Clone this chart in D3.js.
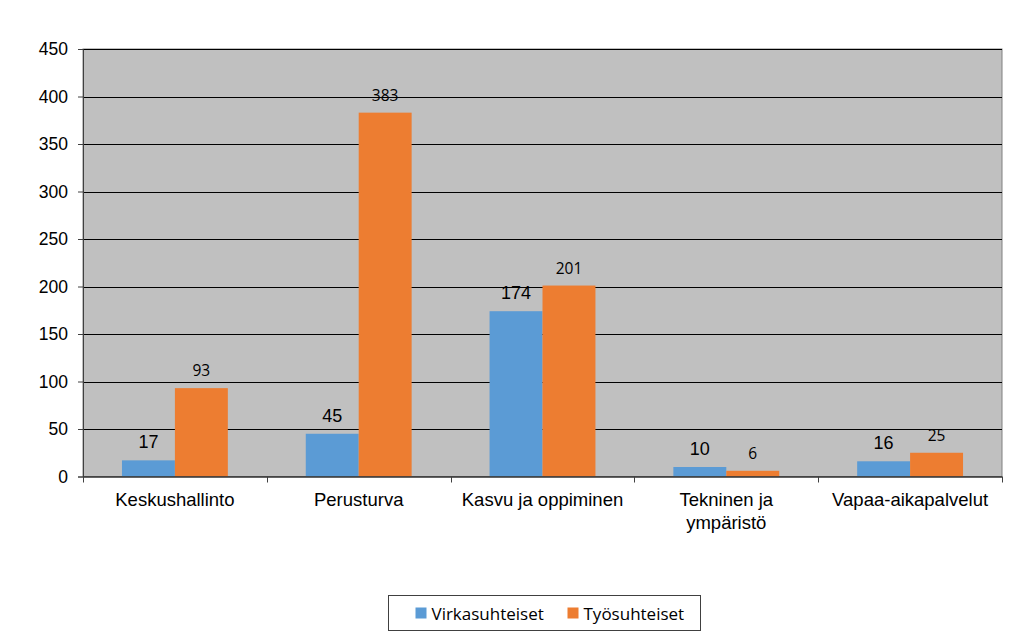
<!DOCTYPE html>
<html>
<head>
<meta charset="utf-8">
<script src="https://cdn.jsdelivr.net/npm/d3@7"></script>
<style>
  body { margin: 0; background: #fff; }
  svg { display: block; }
</style>
</head>
<body>
<svg id="chart"></svg>
<script>
// Chart data
const categories = ["Keskushallinto", "Perusturva", "Kasvu ja oppiminen", "Tekninen ja\nympäristö", "Vapaa-aikapalvelut"];
const seriesNames = ["Virkasuhteiset", "Työsuhteiset"];
const virkasuhteiset = [17, 45, 174, 10, 16];
const tyosuhteiset = [93, 383, 201, 6, 25];
const yTicks = [0, 50, 100, 150, 200, 250, 300, 350, 400, 450];
const colors = ["#5B9BD5", "#ED7D31"];

const width = 1024, height = 643;
const margin = { top: 49, right: 22, bottom: 166.5, left: 83 };
const innerW = width - margin.left - margin.right;
const innerH = height - margin.top - margin.bottom;
const sans = "'Liberation Sans', Arial, sans-serif";

const svg = d3.select("#chart")
    .attr("width", width)
    .attr("height", height);

const g = svg.append("g")
    .attr("transform", `translate(${margin.left},${margin.top})`);

const x0 = d3.scaleBand()
    .domain(categories)
    .range([0, innerW])
    .paddingInner(0.424)
    .paddingOuter(0.212);

const x1 = d3.scaleBand()
    .domain(seriesNames)
    .range([0, x0.bandwidth()]);

const y = d3.scaleLinear()
    .domain([0, 450])
    .range([innerH, 0]);

// Plot background
g.append("rect")
    .attr("width", innerW)
    .attr("height", innerH)
    .attr("fill", "#C0C0C0")
    .attr("stroke", "#808080")
    .attr("stroke-width", 1);

// Gridlines
g.append("g")
    .selectAll("line")
    .data(yTicks.filter(d => d > 0))
    .join("line")
    .attr("x1", 0)
    .attr("x2", innerW)
    .attr("y1", d => Math.round(y(d)) + 0.5)
    .attr("y2", d => Math.round(y(d)) + 0.5)
    .attr("stroke", "#000")
    .attr("stroke-width", 1);

// Y axis
const yAxis = g.append("g")
    .call(d3.axisLeft(y).tickValues(yTicks).tickSize(5).tickPadding(10));
yAxis.select(".domain").attr("stroke", "#404040");
yAxis.selectAll(".tick line").attr("stroke", "#404040");
yAxis.selectAll("text")
    .attr("font-family", sans)
    .attr("font-size", 17.5)
    .attr("fill", "#000");

// Bars
const data = categories.map((c, i) => ({ cat: c, vals: [virkasuhteiset[i], tyosuhteiset[i]] }));

const groups = g.append("g")
    .selectAll("g")
    .data(data)
    .join("g")
    .attr("transform", d => `translate(${x0(d.cat)},0)`);

groups.selectAll("rect")
    .data(d => d.vals.map((v, j) => ({ name: seriesNames[j], value: v, j })))
    .join("rect")
    .attr("x", d => x1(d.name))
    .attr("y", d => y(d.value))
    .attr("width", x1.bandwidth())
    .attr("height", d => innerH - y(d.value))
    .attr("fill", d => colors[d.j]);

// Data labels
groups.selectAll("text")
    .data(d => d.vals.map((v, j) => ({ name: seriesNames[j], value: v, j })))
    .join("text")
    .attr("x", d => x1(d.name) + x1.bandwidth() / 2)
    .attr("y", d => y(d.value) - 12)
    .attr("text-anchor", "middle")
    .attr("font-family", d => d.j === 0 ? sans : "'Open Sans', sans-serif")
    .attr("font-size", d => d.j === 0 ? 18 : 15.5)
    .attr("fill", "#000")
    .text(d => d.value);

// X axis
const xAxis = g.append("g")
    .attr("transform", `translate(0,${innerH})`);

xAxis.append("line")
    .attr("x1", 0)
    .attr("x2", innerW)
    .attr("y1", 0.5)
    .attr("y2", 0.5)
    .attr("stroke", "#303030")
    .attr("stroke-width", 1.5);

// tick marks at category boundaries
xAxis.selectAll(".xtick")
    .data(d3.range(categories.length + 1))
    .join("line")
    .attr("class", "xtick")
    .attr("x1", i => Math.round(i * innerW / categories.length) + 0.5)
    .attr("x2", i => Math.round(i * innerW / categories.length) + 0.5)
    .attr("y1", 0)
    .attr("y2", 6)
    .attr("stroke", "#404040");

const xLabels = xAxis.selectAll(".xlabel")
    .data(categories)
    .join("text")
    .attr("class", "xlabel")
    .attr("text-anchor", "middle")
    .attr("font-family", sans)
    .attr("font-size", 18.5)
    .attr("fill", "#000")
    .attr("transform", d => `translate(${x0(d) + x0.bandwidth() / 2},29)`);

xLabels.selectAll("tspan")
    .data(d => d.split("\n"))
    .join("tspan")
    .attr("x", 0)
    .attr("dy", (d, i) => i === 0 ? 0 : 23)
    .text(d => d);

// Legend
const legend = svg.append("g")
    .attr("transform", "translate(388.5,595.5)");

legend.append("rect")
    .attr("width", 312)
    .attr("height", 35)
    .attr("fill", "#fff")
    .attr("stroke", "#404040")
    .attr("stroke-width", 1);

const legendX = [27, 179];
const items = legend.selectAll(".item")
    .data(seriesNames)
    .join("g")
    .attr("class", "item")
    .attr("transform", (d, i) => `translate(${legendX[i]},0)`);

items.append("rect")
    .attr("y", 12)
    .attr("width", 11)
    .attr("height", 11)
    .attr("fill", (d, i) => colors[i]);

items.append("text")
    .attr("x", 16)
    .attr("y", 24)
    .attr("font-family", "'Open Sans', sans-serif")
    .attr("font-size", 17)
    .attr("fill", "#000")
    .text(d => d);
</script>
</body>
</html>
